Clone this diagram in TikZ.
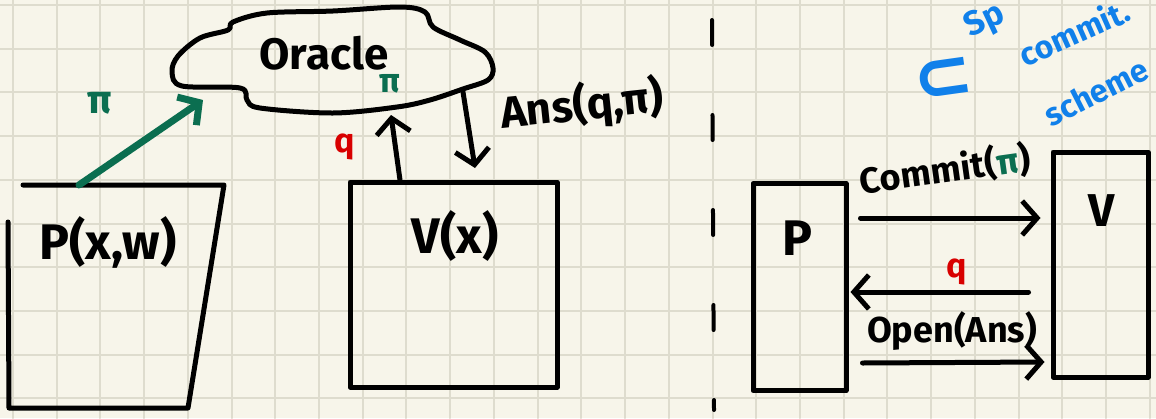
\documentclass[tikz,border=0pt]{standalone}
\usepackage{fontspec}
\setmainfont{Fira Sans}
\newfontfamily\symfont{DejaVu Sans}
\usetikzlibrary{arrows.meta}
\definecolor{paper}{HTML}{F7F5EA}
\definecolor{gridline}{HTML}{DEDCCE}
\definecolor{pengreen}{HTML}{0B6E50}
\definecolor{penred}{HTML}{D80000}
\definecolor{penblue}{HTML}{1080EA}
\begin{document}
\begin{tikzpicture}[x=1pt,y=-1pt,line cap=round,line join=round,
  pen/.style={line width=5pt,draw=black},
  barb/.style={-{Straight Barb[length=15pt,width=34pt]}},
  hand/.style={inner sep=0pt,font=\bfseries\fontsize{#1}{#1}\selectfont},
  hand/.default=44]
% paper and grid
\useasboundingbox (0,0) rectangle (1156,418);
\clip (0,0) rectangle (1156,418);
\fill[paper] (0,0) rectangle (1156,418);
\foreach \k in {0,...,26}
  \draw[gridline,line width=2pt] ({13+43.72*\k},0) -- ({13+43.72*\k},418);
\foreach \k in {0,...,9}
  \draw[gridline,line width=2pt] (0,{5+43.72*\k}) -- (1156,{5+43.72*\k});

% prover with witness (open trapezoid)
\coordinate (ptop) at (79,185);
\draw[pen] (23,185) -- (224,185) -- (188,408) -- (9,408) -- (8,222);
\node[hand=50] (pxw) at (108,242) {P(x,w)};

% oracle cloud
\draw[pen] plot[smooth cycle,tension=0.55] coordinates {
  (233,22) (267,13) (333,11) (400,7) (425,12) (433,27) (460,40) (485,52)
  (493,68) (488,80) (463,89) (430,100) (397,107) (333,113) (260,108)
  (247,100) (240,88) (182,86) (172,72) (178,56) (200,38) (228,30)};
\node[hand=44] (oracle) at (324,53) {Oracle};
\node[hand=34,text=pengreen] (pismall) at (390,84) {π};
\coordinate (cloudleft) at (203,100);
\coordinate (cloudbot) at (391,115);
\coordinate (cloudout) at (463,92);

% verifier
\node[pen,minimum width=207pt,minimum height=205pt,inner sep=0pt] (vbox) at (453.5,284.5) {};
\node[hand=50] (vx) at (455,236) {V(x)};
\coordinate (vtop1) at (400,180);
\coordinate (vtop2) at (475,168);

% prover -> oracle
\draw[line width=7pt,pengreen,barb] (ptop) -- (cloudleft);
\node[hand=40,text=pengreen] (pibig) at (100,103) {π};

% verifier <-> oracle
\draw[pen,barb] (vtop1) -- (cloudbot);
\node[hand=34,text=penred] (q1) at (345,147) {q};
\draw[pen,barb] (cloudout) -- (vtop2);
\node[hand=44,rotate=6] (ans) at (582,106) {Ans(q,π)};

% separator
\draw[line width=4pt,dash pattern=on 25pt off 70pt] (712,20) -- (714,410);

% commitment scheme protocol
\node[pen,minimum width=93pt,minimum height=207pt,inner sep=0pt] (pb) at (799.5,287) {};
\node[hand=50] (plab) at (797,238) {P};
\node[pen,minimum width=95pt,minimum height=225pt,inner sep=0pt] (vb) at (1100.5,264.5) {};
\node[hand=46] (vlab) at (1102,211) {V};

\draw[pen,barb] ([xshift=12pt]pb.east |- 0,218) -- ([xshift=-10pt]vb.west |- 0,218);
\node[hand=36,rotate=8] (com) at (945,170) {Commit(\textcolor{pengreen}{π})};
\draw[pen,barb] ([xshift=-22pt]vb.west |- 0,292) -- ([xshift=2pt]pb.east |- 0,292);
\node[hand=34,text=penred] (q2) at (957,272) {q};
\draw[pen,barb] ([xshift=14pt]pb.east |- 0,363) -- ([xshift=-6pt]vb.west |- 0,362);
\node[hand=36] (open) at (952,331) {Open(Ans)};

% side note
\node[hand=34,text=penblue,rotate=25] (sp) at (985,22) {Sp};
\node[hand=32,text=penblue,rotate=24] (cm) at (1074,32) {commit.};
\node[hand=32,text=penblue,rotate=27] (sc) at (1096,92) {scheme};
\node[inner sep=0pt,text=penblue,font=\symfont\bfseries\fontsize{72}{72}\selectfont,rotate=8] (sub) at (944,80) {⊂};
\end{tikzpicture}
\end{document}
